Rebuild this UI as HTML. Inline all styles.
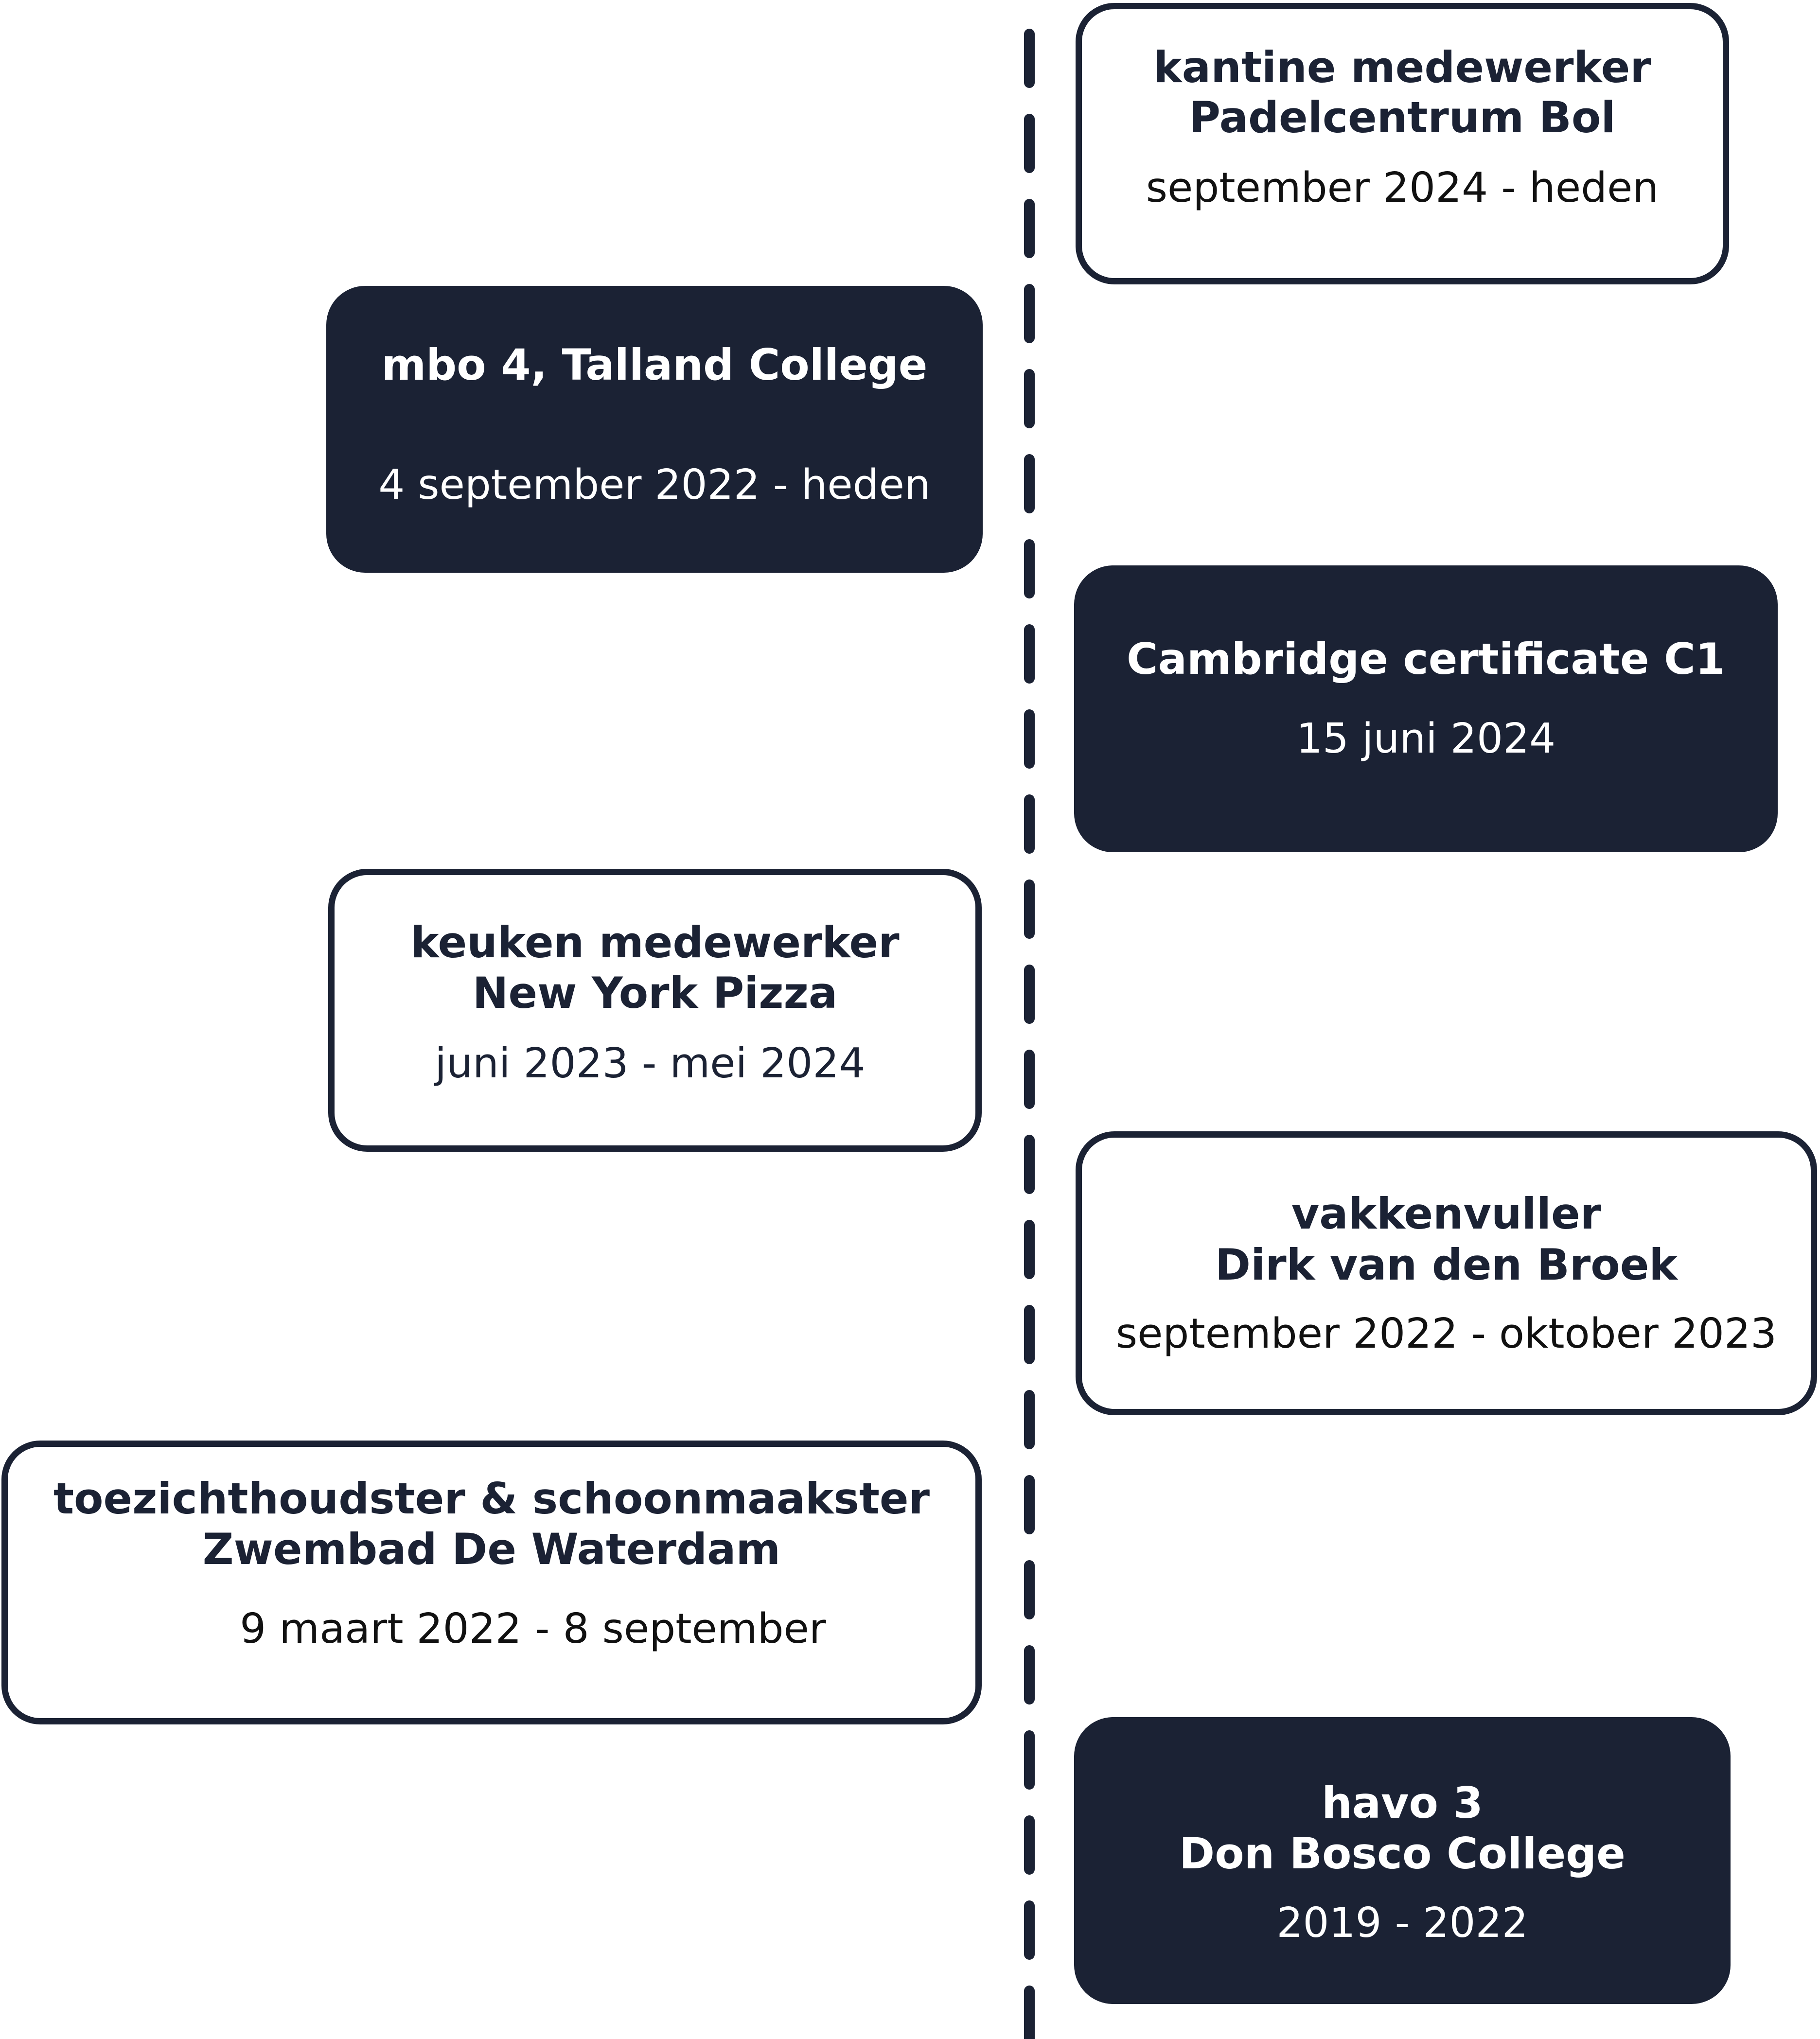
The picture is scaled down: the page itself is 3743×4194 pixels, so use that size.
<!DOCTYPE html>
<html><head><meta charset="utf-8"><style>
html,body{margin:0;padding:0;background:#fff}
body{width:3743px;height:4194px;position:relative;overflow:hidden;font-family:"DejaVu Sans","Liberation Sans",sans-serif}
.b{position:absolute;box-sizing:border-box;border-radius:80px}
.w{background:#fff;border:13px solid #1b2234}
.d{background:#1b2234}
.t{position:absolute;text-align:center;font-size:85px;line-height:100px;white-space:nowrap}
.bo{font-weight:bold;color:#1b2234;font-size:88px}
.r{color:#111}
.wt{color:#fff}
</style></head><body>
<svg width="3743" height="4194" style="position:absolute;left:0;top:0">
<line x1="2117" y1="70" x2="2117" y2="4194" stroke="#1b2234" stroke-width="22" stroke-dasharray="100 75" stroke-linecap="round"/>
</svg>
<div class="b w" style="left:2212px;top:6px;width:1344px;height:579px"></div>
<div class="b d" style="left:671px;top:588px;width:1350px;height:590px"></div>
<div class="b d" style="left:2209px;top:1163px;width:1447px;height:590px"></div>
<div class="b w" style="left:675px;top:1787px;width:1344px;height:582px"></div>
<div class="b w" style="left:2212px;top:2327px;width:1525px;height:584px"></div>
<div class="b w" style="left:3px;top:2963px;width:2016px;height:584px"></div>
<div class="b d" style="left:2209px;top:3532px;width:1350px;height:590px"></div>

<div class="t bo" style="left:2212px;width:1344px;top:89px">kantine medewerker</div>
<div class="t bo" style="left:2212px;width:1344px;top:192px">Padelcentrum Bol</div>
<div class="t r" style="left:2212px;width:1344px;top:337px">september 2024 - heden</div>

<div class="t bo wt" style="left:671px;width:1350px;top:701px">mbo 4, Talland College</div>
<div class="t wt" style="left:671px;width:1350px;top:948px">4 september 2022 - heden</div>

<div class="t bo wt" style="left:2209px;width:1447px;top:1306px">Cambridge certificate C1</div>
<div class="t wt" style="left:2209px;width:1447px;top:1470px">15 juni 2024</div>

<div class="t bo" style="left:675px;width:1344px;top:1889px">keuken medewerker</div>
<div class="t bo" style="left:675px;width:1344px;top:1993px">New York Pizza</div>
<div class="t bo" style="left:665px;width:1344px;top:2138px;font-weight:normal;font-size:85px">juni 2023 - mei 2024</div>

<div class="t bo" style="left:2212px;width:1525px;top:2447px">vakkenvuller</div>
<div class="t bo" style="left:2212px;width:1525px;top:2552px">Dirk van den Broek</div>
<div class="t r" style="left:2212px;width:1525px;top:2694px">september 2022 - oktober 2023</div>

<div class="t bo" style="left:3px;width:2016px;top:3033px">toezichthoudster &amp; schoonmaakster</div>
<div class="t bo" style="left:3px;width:2016px;top:3137px">Zwembad De Waterdam</div>
<div class="t r" style="left:0px;width:2192px;top:3301px">9 maart 2022 - 8 september</div>

<div class="t bo wt" style="left:2209px;width:1350px;top:3659px">havo 3</div>
<div class="t bo wt" style="left:2209px;width:1350px;top:3763px">Don Bosco College</div>
<div class="t wt" style="left:2209px;width:1350px;top:3906px">2019 - 2022</div>
</body></html>
